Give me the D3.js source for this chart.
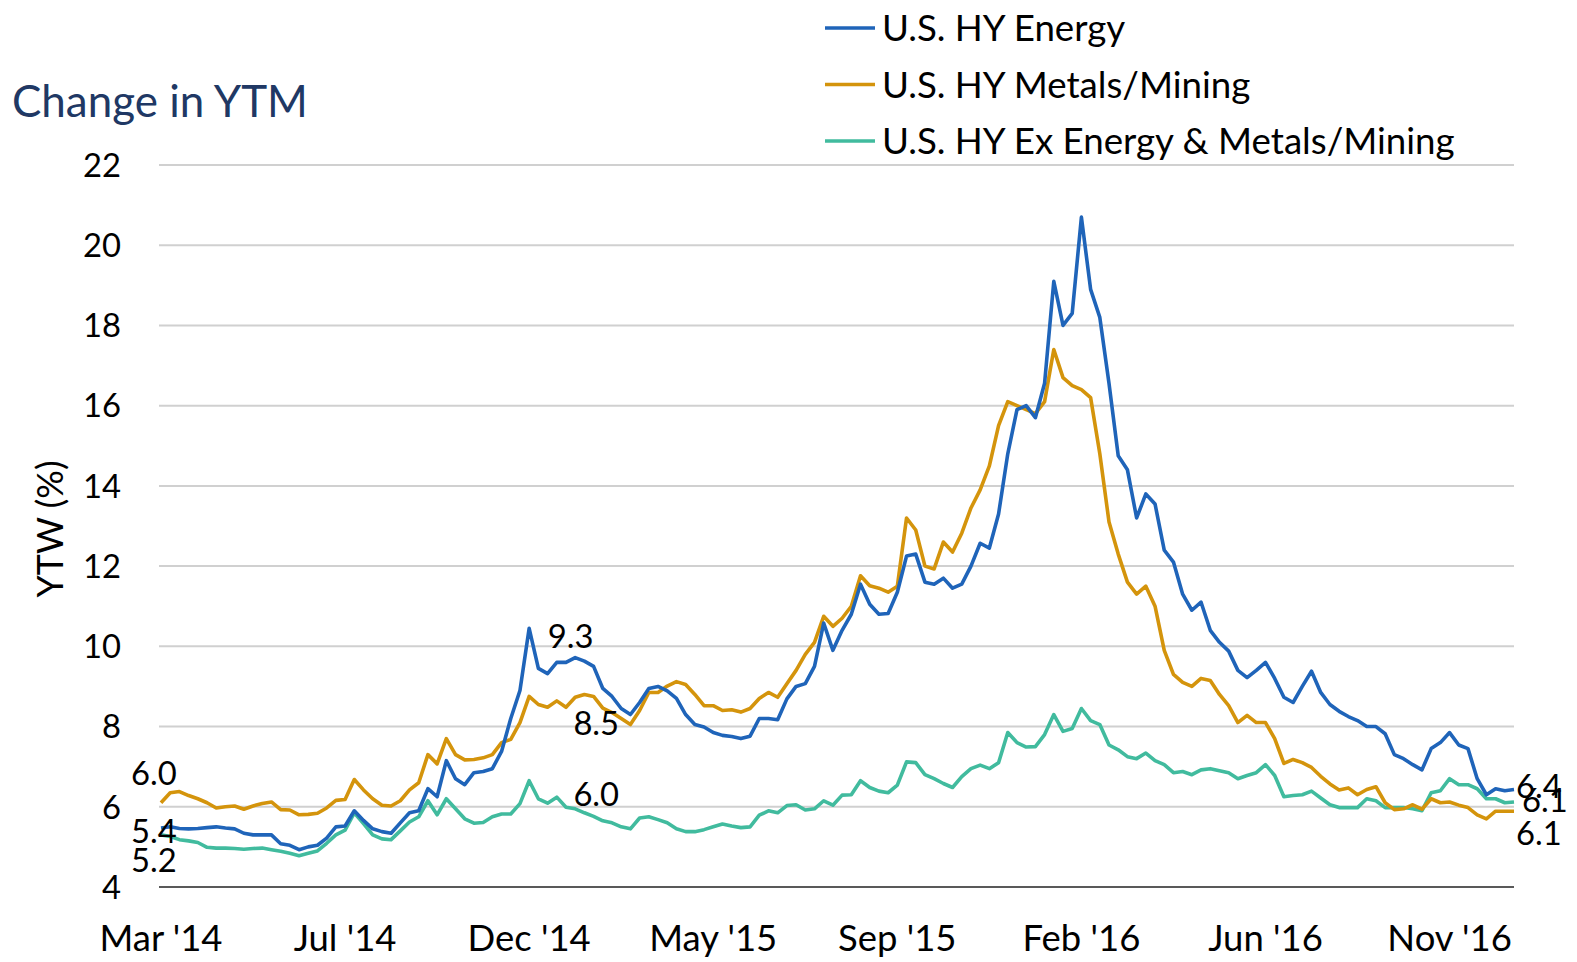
<!DOCTYPE html>
<html>
<head>
<meta charset="utf-8">
<script src="https://cdn.jsdelivr.net/npm/d3@7"></script>
<style>
  html, body { margin: 0; padding: 0; background: #ffffff; }
  svg { display: block; }
  text { font-family: "Lato", "Open Sans", sans-serif; }
</style>
</head>
<body>
<svg id="chart" width="1577" height="962"></svg>
<script>
// ---------------- DATA (weekly observations, Mar 2014 - Dec 2016) ----------------
const xTickLabels = ["Mar '14", "Jul '14", "Dec '14", "May '15", "Sep '15", "Feb '16", "Jun '16", "Nov '16"];
const xTickIndex  = [0, 20, 40, 60, 80, 100, 120, 140];
const yTicks = [4, 6, 8, 10, 12, 14, 16, 18, 20, 22];

const seriesNames = ["U.S. HY Energy", "U.S. HY Metals/Mining", "U.S. HY Ex Energy & Metals/Mining"];

const energy = [
  5.47, 5.50, 5.46, 5.45, 5.46, 5.48, 5.50, 5.47, 5.45, 5.34,
  5.30, 5.30, 5.30, 5.08, 5.04, 4.93, 5.00, 5.04, 5.22, 5.50,
  5.52, 5.90, 5.66, 5.45, 5.38, 5.34, 5.60, 5.85, 5.90, 6.45,
  6.25, 7.15, 6.70, 6.55, 6.85, 6.88, 6.95, 7.38, 8.20, 8.90,
  10.45, 9.45, 9.32, 9.60, 9.60, 9.72, 9.63, 9.50, 8.95, 8.75,
  8.45, 8.30, 8.60, 8.95, 9.00, 8.89, 8.70, 8.30, 8.05, 7.99,
  7.85, 7.78, 7.75, 7.70, 7.76, 8.20, 8.20, 8.17, 8.69, 9.00,
  9.07, 9.50, 10.58, 9.90, 10.40, 10.80, 11.55, 11.05, 10.80, 10.82,
  11.35, 12.25, 12.30, 11.60, 11.55, 11.70, 11.45, 11.55, 12.00, 12.57,
  12.45, 13.30, 14.80, 15.90, 16.00, 15.70, 16.56, 19.10, 18.00, 18.30,
  20.70, 18.90, 18.20, 16.55, 14.75, 14.40, 13.20, 13.80, 13.55, 12.40,
  12.10, 11.30, 10.90, 11.10, 10.40, 10.10, 9.88, 9.40, 9.22, 9.40,
  9.60, 9.20, 8.73, 8.60, 9.00, 9.38, 8.85, 8.55, 8.38, 8.25,
  8.15, 8.00, 8.00, 7.82, 7.30, 7.20, 7.05, 6.92, 7.45, 7.60,
  7.85, 7.54, 7.45, 6.70, 6.30, 6.45, 6.40, 6.43
];

const metals = [
  6.10, 6.35, 6.38, 6.28, 6.20, 6.10, 5.97, 6.00, 6.02, 5.94,
  6.02, 6.08, 6.12, 5.93, 5.92, 5.80, 5.81, 5.84, 5.97, 6.16,
  6.18, 6.68, 6.42, 6.20, 6.04, 6.02, 6.15, 6.42, 6.60, 7.30,
  7.07, 7.70, 7.30, 7.17, 7.18, 7.22, 7.30, 7.60, 7.68, 8.10,
  8.75, 8.55, 8.48, 8.64, 8.48, 8.73, 8.80, 8.75, 8.46, 8.35,
  8.20, 8.05, 8.40, 8.85, 8.85, 9.01, 9.12, 9.05, 8.80, 8.52,
  8.52, 8.40, 8.42, 8.36, 8.45, 8.70, 8.85, 8.73, 9.07, 9.40,
  9.80, 10.10, 10.75, 10.50, 10.70, 11.00, 11.76, 11.51, 11.45, 11.35,
  11.50, 13.20, 12.90, 12.00, 11.93, 12.60, 12.35, 12.82, 13.45, 13.90,
  14.50, 15.50, 16.10, 16.00, 15.90, 15.80, 16.10, 17.40, 16.70, 16.50,
  16.40, 16.20, 14.80, 13.10, 12.30, 11.60, 11.30, 11.50, 11.00, 9.90,
  9.30, 9.10, 9.00, 9.20, 9.15, 8.80, 8.52, 8.10, 8.28, 8.10,
  8.10, 7.70, 7.08, 7.18, 7.10, 6.98, 6.76, 6.57, 6.42, 6.47,
  6.30, 6.43, 6.50, 6.10, 5.93, 5.95, 6.05, 5.94, 6.20, 6.10,
  6.12, 6.04, 5.98, 5.80, 5.70, 5.89, 5.89, 5.89
];

const exEnergy = [
  5.30, 5.26, 5.18, 5.15, 5.11, 4.99, 4.97, 4.97, 4.96, 4.94,
  4.96, 4.97, 4.93, 4.89, 4.84, 4.78, 4.84, 4.90, 5.09, 5.30,
  5.42, 5.85, 5.58, 5.30, 5.20, 5.18, 5.40, 5.62, 5.75, 6.15,
  5.80, 6.20, 5.95, 5.70, 5.59, 5.61, 5.75, 5.82, 5.82, 6.08,
  6.65, 6.20, 6.09, 6.24, 5.99, 5.95, 5.85, 5.76, 5.65, 5.60,
  5.50, 5.45, 5.72, 5.75, 5.68, 5.60, 5.45, 5.38, 5.38, 5.43,
  5.50, 5.57, 5.52, 5.48, 5.50, 5.79, 5.90, 5.85, 6.03, 6.05,
  5.92, 5.95, 6.15, 6.04, 6.29, 6.30, 6.65, 6.48, 6.39, 6.35,
  6.54, 7.12, 7.10, 6.80, 6.70, 6.58, 6.48, 6.75, 6.95, 7.04,
  6.95, 7.10, 7.85, 7.60, 7.49, 7.50, 7.80, 8.30, 7.88, 7.95,
  8.45, 8.15, 8.05, 7.54, 7.42, 7.25, 7.20, 7.34, 7.15, 7.05,
  6.85, 6.88, 6.80, 6.92, 6.95, 6.90, 6.85, 6.70, 6.78, 6.85,
  7.05, 6.78, 6.25, 6.28, 6.30, 6.39, 6.22, 6.05, 5.98, 5.98,
  5.98, 6.20, 6.15, 5.98, 5.98, 5.98, 5.95, 5.90, 6.35, 6.40,
  6.70, 6.55, 6.55, 6.45, 6.20, 6.20, 6.10, 6.12
];

// annotated values written on the chart
const annoText  = ["6.0", "5.4", "5.2", "9.3", "8.5", "6.0", "6.4", "6.1", "6.1"];

// ---------------- LAYOUT ----------------
const margin = { left: 161, right: 1514, top: 165, bottom: 887 };
const colors = ["#1f64b9", "#d4940c", "#41bb9e"];

const svg = d3.select("#chart");
const n = energy.length;

const x = d3.scaleLinear().domain([0, n - 1]).range([margin.left, margin.right]);
const y = d3.scaleLinear().domain([4, 22]).range([margin.bottom, margin.top]);

// helper: font-size so that the text width equals target
function fitSize(sel, target) {
  const w = sel.node().getComputedTextLength();
  const fs = parseFloat(sel.attr("font-size"));
  return fs * target / w;
}

// gridlines
svg.append("g")
  .selectAll("line")
  .data(yTicks.filter(d => d !== 4))
  .join("line")
  .attr("x1", 159).attr("x2", 1514)
  .attr("y1", d => y(d)).attr("y2", d => y(d))
  .attr("stroke", "#d0d0d0").attr("stroke-width", 2);

// baseline
svg.append("line")
  .attr("x1", 159).attr("x2", 1514)
  .attr("y1", y(4)).attr("y2", y(4))
  .attr("stroke", "#595959").attr("stroke-width", 2);

// y axis labels
const yProbe = svg.append("text").attr("font-size", 32).text("10");
const yFs = fitSize(yProbe, 38);
yProbe.remove();
svg.append("g").selectAll("text")
  .data(yTicks).join("text")
  .attr("x", 121).attr("y", d => y(d))
  .attr("dy", "0.36em")
  .attr("text-anchor", "end")
  .attr("font-size", yFs)
  .attr("fill", "#000")
  .text(d => d);

// x axis labels
const xProbe = svg.append("text").attr("font-size", 32).text("Mar '14");
const xFs = fitSize(xProbe, 123);
xProbe.remove();
svg.append("g").selectAll("text")
  .data(xTickLabels).join("text")
  .attr("x", (d, i) => x(xTickIndex[i]))
  .attr("y", 951)
  .attr("text-anchor", "middle")
  .attr("font-size", xFs)
  .attr("fill", "#000")
  .text(d => d);

// y title
const yt = svg.append("text").attr("font-size", 30).text("YTW (%)");
const ytFs = fitSize(yt, 137);
yt.attr("font-size", ytFs)
  .attr("transform", `translate(${63},${529}) rotate(-90)`)
  .attr("text-anchor", "middle")
  .attr("fill", "#000");

// title
const title = svg.append("text").attr("font-size", 40).text("Change in YTM");
const tFs = fitSize(title, 296);
title.attr("font-size", tFs).attr("x", 12).attr("y", 117).attr("fill", "#203864");

// lines
const allSeries = [energy, metals, exEnergy];
const line = d3.line().x((d, i) => x(i)).y(d => y(d));
svg.append("g").selectAll("path")
  .data([exEnergy, metals, energy]).join("path")
  .attr("d", line)
  .attr("fill", "none")
  .attr("stroke", d => colors[allSeries.indexOf(d)])
  .attr("stroke-width", 3.6)
  .attr("stroke-linejoin", "round");

// legend
const legProbe = svg.append("text").attr("font-size", 34).text(seriesNames[2]);
const legFs = fitSize(legProbe, 573);
legProbe.remove();
const leg = svg.append("g");
seriesNames.forEach((name, i) => {
  const cy = 28 + i * 56.5;
  leg.append("line")
    .attr("x1", 825).attr("x2", 875).attr("y1", cy).attr("y2", cy)
    .attr("stroke", colors[i]).attr("stroke-width", 3.5);
  leg.append("text")
    .attr("x", 882).attr("y", cy).attr("dy", "0.36em")
    .attr("font-size", legFs).attr("fill", "#000")
    .text(name);
});

// annotations (value labels)
const annoPos = [
  { s: 1, i: 0,   dx: -30, dy: -30 },
  { s: 0, i: 0,   dx: -30, dy: 3 },
  { s: 2, i: 0,   dx: -30, dy: 25 },
  { s: 0, i: 43,  dx: -9,  dy: -26 },
  { s: 1, i: 46,  dx: -11, dy: 29 },
  { s: 2, i: 46,  dx: -11, dy: -19 },
  { s: 0, i: n-1, dx: 2,   dy: -3 },
  { s: 2, i: n-1, dx: 8,   dy: -2 },
  { s: 1, i: n-1, dx: 2,   dy: 22 }
];
svg.append("g").selectAll("text")
  .data(annoText).join("text")
  .attr("x", (d, k) => x(annoPos[k].i) + annoPos[k].dx)
  .attr("y", (d, k) => y(allSeries[annoPos[k].s][annoPos[k].i]) + annoPos[k].dy)
  .attr("dy", "0.36em")
  .attr("font-size", yFs)
  .attr("fill", "#000")
  .text(d => d);
</script>
</body>
</html>
